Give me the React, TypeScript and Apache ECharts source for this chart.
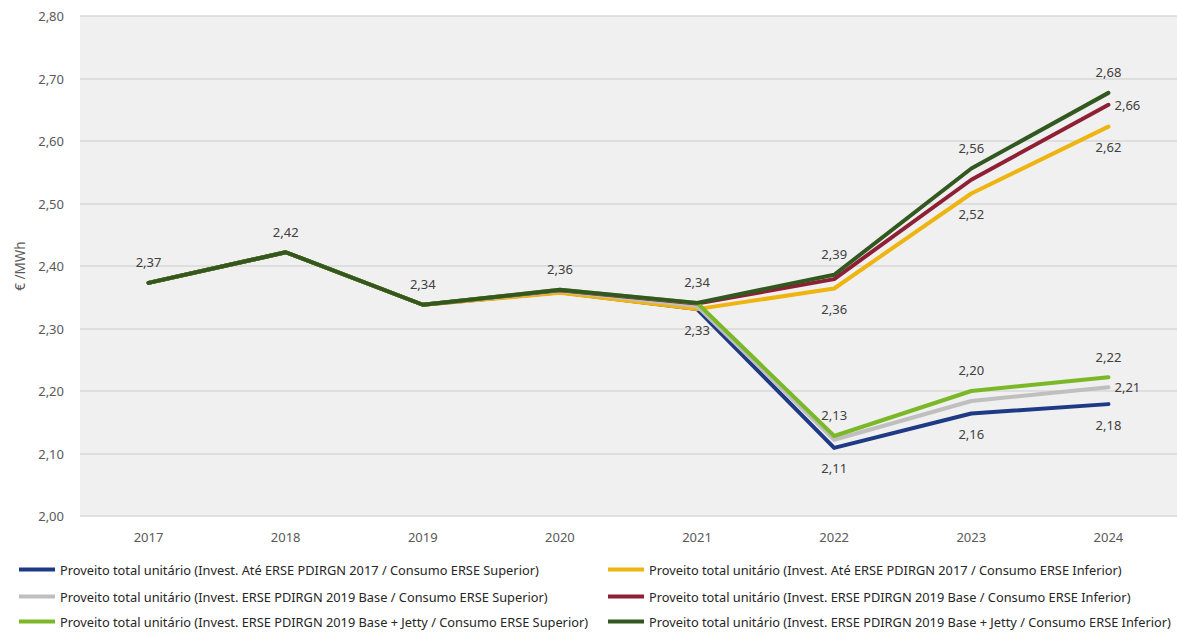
import React, { useEffect, useRef } from "react";
import * as echarts from "echarts";

const years = ["2017", "2018", "2019", "2020", "2021", "2022", "2023", "2024"];
const yTicks = { min: 2.0, max: 2.8, interval: 0.1 };

const nameBlue = "Proveito total unitário (Invest. Até ERSE PDIRGN 2017 / Consumo ERSE Superior)";
const nameYellow = "Proveito total unitário (Invest. Até ERSE PDIRGN 2017 / Consumo ERSE Inferior)";
const nameGray = "Proveito total unitário (Invest. ERSE PDIRGN 2019 Base / Consumo ERSE Superior)";
const nameRed = "Proveito total unitário (Invest. ERSE PDIRGN 2019 Base / Consumo ERSE Inferior)";
const nameLGreen = "Proveito total unitário (Invest. ERSE PDIRGN 2019 Base + Jetty / Consumo ERSE Superior)";
const nameDGreen = "Proveito total unitário (Invest. ERSE PDIRGN 2019 Base + Jetty / Consumo ERSE Inferior)";

const blue = [2.373, 2.422, 2.338, 2.358, 2.331, 2.109, 2.164, 2.179];
const yellow = [2.373, 2.422, 2.338, 2.357, 2.331, 2.364, 2.516, 2.623];
const gray = [2.373, 2.422, 2.338, 2.36, 2.336, 2.122, 2.184, 2.206];
const red = [2.373, 2.422, 2.338, 2.361, 2.34, 2.379, 2.538, 2.658];
const lgreen = [2.373, 2.422, 2.338, 2.362, 2.341, 2.128, 2.2, 2.222];
const dgreen = [2.373, 2.422, 2.338, 2.362, 2.341, 2.386, 2.556, 2.677];

// which points carry labels, and where
const blueLabels = [null, null, null, null, "bottom", "bottom", "bottom", "bottom"];
const yellowLabels = [null, null, null, null, null, "bottom", "bottom", "bottom"];
const grayLabels = [null, null, null, null, null, null, null, "right"];
const redLabels = [null, null, null, null, null, null, null, "right"];
const lgreenLabels = [null, null, null, null, null, "top", "top", "top"];
const dgreenLabels = ["top", "top", "top", "top", "top", "top", "top", "top"];

const fmt = (v: number) => v.toFixed(2).replace(".", ",");

const labelFont = { fontFamily: "Noto Sans", fontSize: 13, color: "#404040" };

function buildData(values: number[], labels: (string | null)[]) {
  return values.map((v, i) => {
    const pos = labels[i];
    if (!pos) return { value: v, label: { show: false } };
    return {
      value: v,
      label: {
        show: true,
        position: pos,
        distance: pos === "right" ? 6 : 14,
        formatter: (p: any) => fmt(p.value),
        ...labelFont,
      },
    };
  });
}

function mkSeries(name: string, color: string, values: number[], labels: (string | null)[]) {
  return {
    name,
    type: "line",
    data: buildData(values, labels),
    symbol: "circle",
    symbolSize: 0.1,
    showSymbol: true,
    lineStyle: { color, width: 4, cap: "round", join: "round" },
    itemStyle: { color },
    emphasis: { disabled: true },
  };
}

const legendPos = [
  { name: nameBlue, left: 19, top: 563 },
  { name: nameGray, left: 19, top: 590 },
  { name: nameLGreen, left: 19, top: 615 },
  { name: nameYellow, left: 608, top: 563 },
  { name: nameRed, left: 608, top: 590 },
  { name: nameDGreen, left: 608, top: 615 },
];

export default function App() {
  const ref = useRef<HTMLDivElement>(null);
  useEffect(() => {
    if (!ref.current) return;
    const chart = echarts.init(ref.current, null, { renderer: "svg" });
    const legendText = { fontFamily: "Noto Sans", fontSize: 12.8, color: "#262626" };
    chart.setOption({
      animation: false,
      backgroundColor: "#ffffff",
      grid: {
        left: 80,
        right: 0,
        top: 16,
        bottom: 116,
        show: true,
        backgroundColor: "#F0F0F0",
        borderWidth: 0,
        containLabel: false,
      },
      legend: legendPos.map((l) => ({
        orient: "horizontal",
        left: l.left,
        top: l.top,
        padding: 0,
        itemWidth: 36,
        itemHeight: 4,
        icon: "rect",
        textStyle: legendText,
        data: [l.name],
        selectedMode: false,
      })),
      xAxis: {
        type: "category",
        data: years,
        boundaryGap: true,
        axisLine: { show: false },
        axisTick: { show: false },
        axisLabel: { margin: 14, fontFamily: "Noto Sans", fontSize: 13, color: "#595959" },
      },
      yAxis: {
        type: "value",
        min: yTicks.min,
        max: yTicks.max,
        interval: yTicks.interval,
        name: "€ /MWh",
        nameLocation: "middle",
        nameGap: 53,
        nameRotate: 90,
        nameTextStyle: { fontFamily: "Noto Sans", fontSize: 13.5, color: "#595959" },
        axisLine: { show: false },
        axisTick: { show: false },
        axisLabel: {
          margin: 16,
          fontFamily: "Noto Sans",
          fontSize: 13,
          color: "#595959",
          formatter: (v: number) => fmt(v),
        },
        splitLine: { lineStyle: { color: "#D9D9D9", width: 1.5 } },
      },
      series: [
        mkSeries(nameBlue, "#1F3A85", blue, blueLabels),
        mkSeries(nameYellow, "#EEB40F", yellow, yellowLabels),
        mkSeries(nameGray, "#BFBFBF", gray, grayLabels),
        mkSeries(nameRed, "#8E1F35", red, redLabels),
        mkSeries(nameLGreen, "#7AB828", lgreen, lgreenLabels),
        mkSeries(nameDGreen, "#32581F", dgreen, dgreenLabels),
      ],
    });
    return () => chart.dispose();
  }, []);
  return (
    <div
      ref={ref}
      style={{ position: "fixed", left: 0, top: 0, width: 1177, height: 632 }}
    />
  );
}
